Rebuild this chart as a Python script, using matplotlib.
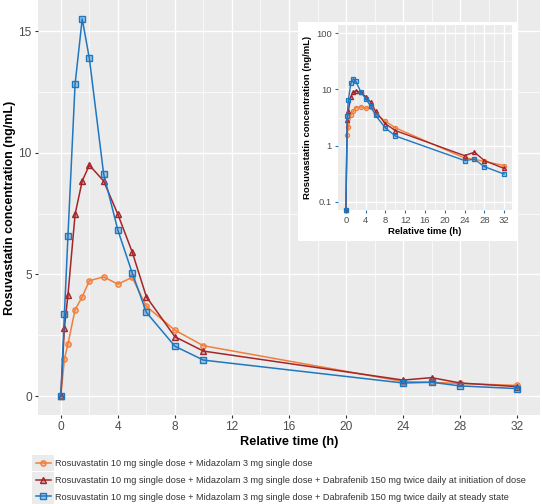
import numpy as np
import matplotlib
matplotlib.use('Agg')
import matplotlib.pyplot as plt
from matplotlib.patches import Rectangle

plt.rcParams['font.family'] = ['Liberation Sans', 'DejaVu Sans']

time = [0, 0.25, 0.5, 1, 1.5, 2, 3, 4, 5, 6, 8, 10, 24, 26, 28, 32]
conc_single = [0, 1.52, 2.14, 3.55, 4.08, 4.74, 4.90, 4.60, 4.88, 3.69, 2.71, 2.07, 0.60, 0.57, 0.52, 0.44]
conc_init = [0, 2.81, 4.15, 7.47, 8.84, 9.49, 8.84, 7.47, 5.93, 4.08, 2.44, 1.85, 0.66, 0.76, 0.54, 0.39]
conc_ss = [0, 3.36, 6.58, 12.82, 15.5, 13.88, 9.14, 6.82, 5.07, 3.44, 2.05, 1.48, 0.54, 0.57, 0.42, 0.31]

labels = ['Rosuvastatin 10 mg single dose + Midazolam 3 mg single dose',
          'Rosuvastatin 10 mg single dose + Midazolam 3 mg single dose + Dabrafenib 150 mg twice daily at initiation of dose',
          'Rosuvastatin 10 mg single dose + Midazolam 3 mg single dose + Dabrafenib 150 mg twice daily at steady state']
colors = ['#F07F3C', '#A3262A', '#1F77C0']
markers = ['o', '^', 's']
series = [conc_single, conc_init, conc_ss]

xticks = [0, 4, 8, 12, 16, 20, 24, 28, 32]
yticks = [0, 5, 10, 15]
log_ticks = [0.1, 1, 10, 100]
log_ticklabels = ['0.1', '1', '10', '100']

W, H = 542, 504
fig = plt.figure(figsize=(W/100, H/100), dpi=100)
bg = '#EBEBEB'
tick_col = '#4D4D4D'

def style(ax, fs_tick, tick_color):
    ax.set_facecolor(bg)
    for s in ax.spines.values():
        s.set_visible(False)
    ax.grid(which='major', color='white', lw=1.0)
    ax.grid(which='minor', color='white', lw=0.5)
    ax.set_axisbelow(True)
    ax.tick_params(which='major', length=2.5, width=0.8, color=tick_color,
                   labelcolor=tick_col, labelsize=fs_tick, pad=2)
    ax.tick_params(which='minor', length=0)

def rgba(c, a):
    r, g, b = matplotlib.colors.to_rgb(c)
    return (r, g, b, a)

# main panel
ax = fig.add_axes([38/W, 1-415/H, 502/W, 415/H])
style(ax, 8.6, '#333333')
lines = []
for y, c, m, lab in zip(series, colors, markers, labels):
    ln, = ax.plot(time, y, color=c, lw=1.1, marker=m, ms=3.8, mec=c, mew=1.0,
                  mfc=rgba(c, 0.35), label=lab)
    lines.append(ln)
ax.set_xlim(-1.6, 33.6)
ax.set_ylim(-0.775, 16.275)
ax.set_xticks(xticks)
ax.set_xticks([2, 6, 10, 14, 18, 22, 26, 30], minor=True)
ax.set_yticks(yticks)
ax.set_yticks([2.5, 7.5, 12.5], minor=True)
ax.set_xlabel('Relative time (h)', fontsize=9.2, fontweight='bold', labelpad=2)
ax.set_ylabel('Rosuvastatin concentration (ng/mL)', fontsize=9.0, fontweight='bold',
              va='center')
ax.yaxis.set_label_coords(-28/502, 0.5)

# inset
fig.patches.append(Rectangle((298/W, 1-241/H), 219/W, 219/H, transform=fig.transFigure,
                             facecolor='white', edgecolor='none', zorder=1))
ins = fig.add_axes([338/W, 1-210/H, 174/W, 185/H], zorder=3)
style(ins, 6.8, '#1F77C0')
ylo, yhi = 10**-1.15, 10**2.15
for y, c, m in zip(series, colors, markers):
    yy = [v if v > 0 else ylo for v in y]
    ins.plot(time, yy, color=c, lw=1.0, marker=m, ms=3.0, mec=c, mew=0.9,
             mfc=rgba(c, 0.35), clip_on=False)
ins.set_yscale('log')
ins.set_xlim(-1.6, 33.6)
ins.set_ylim(ylo, yhi)
ins.set_xticks(xticks)
ins.set_xticks([2, 6, 10, 14, 18, 22, 26, 30], minor=True)
ins.set_yticks(log_ticks)
ins.set_yticklabels(log_ticklabels)
ins.set_yticks([10**-0.5, 10**0.5, 10**1.5], minor=True)
ins.yaxis.set_minor_formatter(matplotlib.ticker.NullFormatter())
ins.set_xlabel('Relative time (h)', fontsize=6.8, fontweight='bold', labelpad=1)
ins.set_ylabel('Rosuvastatin concentration (ng/mL)', fontsize=6.8, fontweight='bold', labelpad=3)

# legend
leg = fig.legend(handles=lines, loc='upper left', bbox_to_anchor=(36/W, 1-459/H),
                 frameon=False, fontsize=6.6, handlelength=1.6, handletextpad=0.5,
                 labelspacing=0.85, borderpad=0, borderaxespad=0)
for t in leg.get_texts():
    t.set_color('#333333')

fig.canvas.draw()
for h in leg.legend_handles:
    bb = h.get_window_extent()
    cy = (bb.y0 + bb.y1) / 2
    fig.patches.append(Rectangle(((bb.x0-1)/W, (cy-8)/H), (bb.x1-bb.x0+2)/W, 16/H,
                                 transform=fig.transFigure, facecolor='#EBEBEB',
                                 edgecolor='none', zorder=0))

fig.savefig('out.png', dpi=100)
